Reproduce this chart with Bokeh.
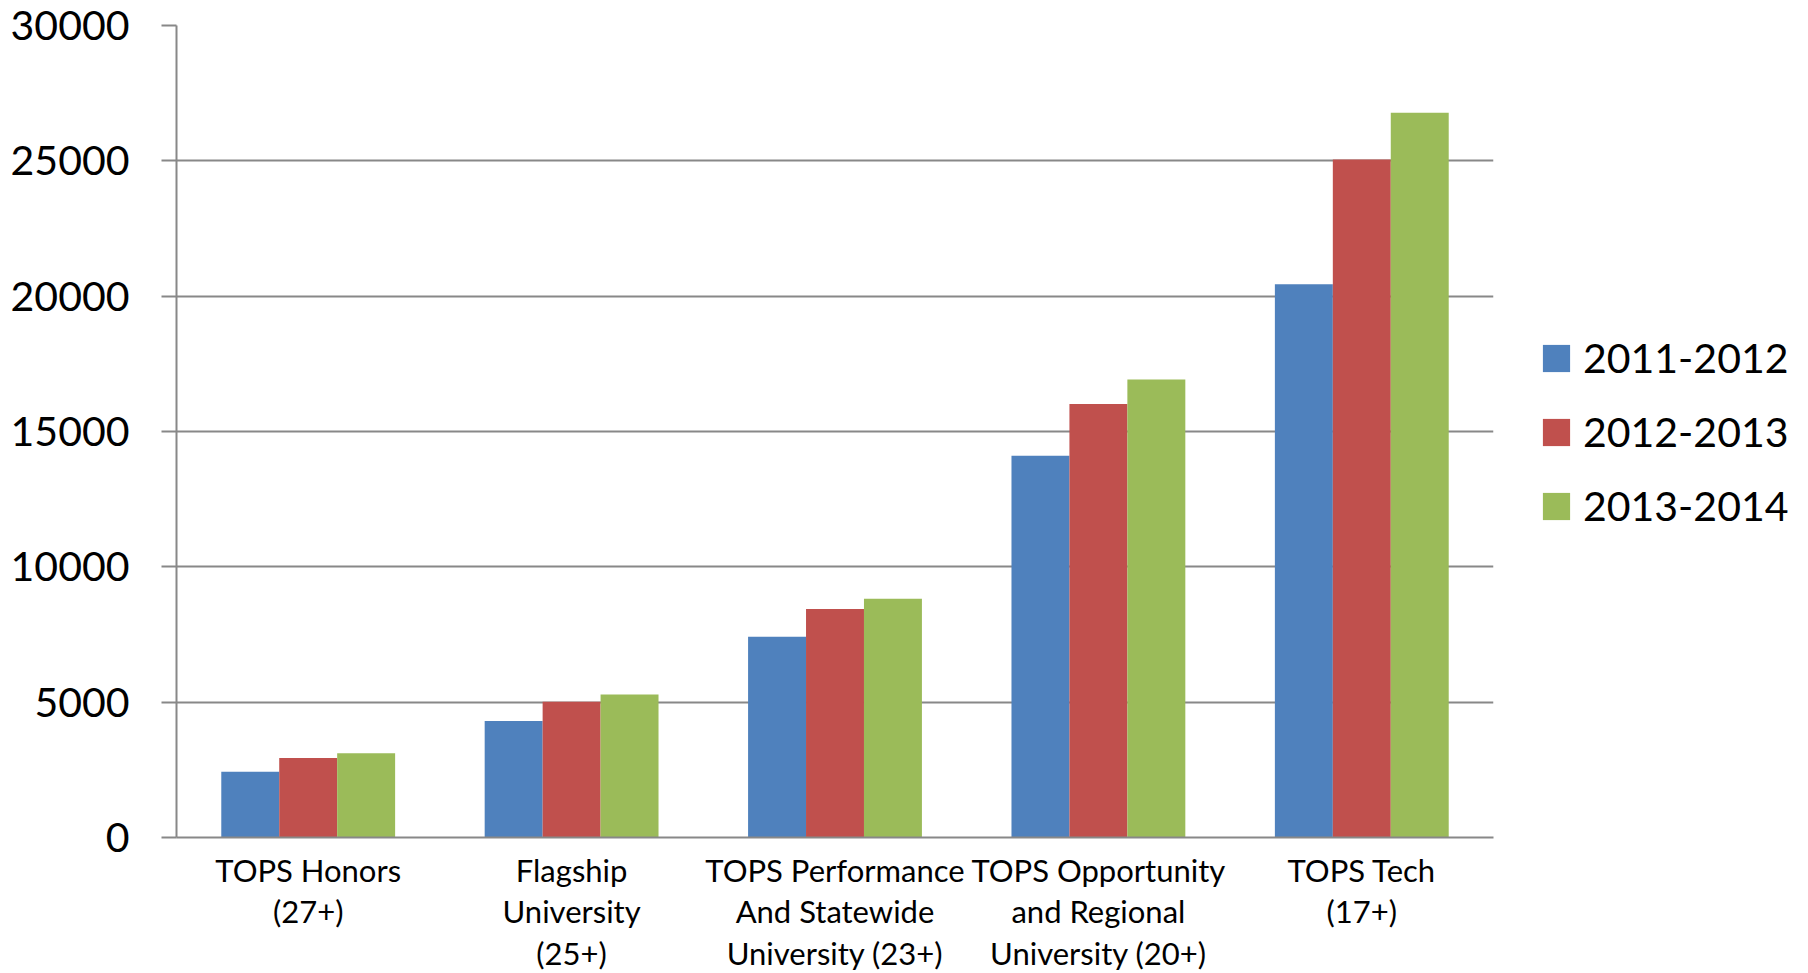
from bokeh.plotting import figure
from bokeh.models import FactorRange, Legend, LegendItem, ColumnDataSource, SingleIntervalTicker
from bokeh.transform import dodge
from bokeh.embed import file_html
from bokeh.resources import INLINE

categories = ["TOPS Honors\n(27+)", "Flagship\nUniversity\n(25+)",
              "TOPS Performance\nAnd Statewide\nUniversity (23+)",
              "TOPS Opportunity\nand Regional\nUniversity (20+)", "TOPS Tech\n(17+)"]
series_names = ["2011-2012", "2012-2013", "2013-2014"]
v_2011 = [2430, 4300, 7420, 14100, 20440]
v_2012 = [2940, 5020, 8440, 16020, 25050]
v_2013 = [3110, 5280, 8820, 16920, 26780]
colors = ["#4F81BD", "#C0504D", "#9BBB59"]

src = ColumnDataSource(dict(cat=categories, s0=v_2011, s1=v_2012, s2=v_2013))

FONT = "Lato"
p = figure(frame_width=1317, frame_height=812, x_range=FactorRange(*categories), y_range=(0, 30000),
           output_backend="svg", toolbar_location=None,
           min_border_left=176, min_border_top=25, min_border_right=0, min_border_bottom=130)
p.outline_line_color = None

renderers = []
for i, (col, name, c) in enumerate(zip(["s0", "s1", "s2"], series_names, colors)):
    r = p.vbar(x=dodge("cat", (i - 1) * 0.22, range=p.x_range), top=col, width=0.22,
               source=src, fill_color=c, line_color=None)
    renderers.append((name, r))

grid_c = "#888888"
p.xgrid.grid_line_color = None
p.ygrid.grid_line_color = grid_c
p.ygrid.grid_line_width = 2
p.yaxis.ticker = SingleIntervalTicker(interval=5000)
p.yaxis.minor_tick_line_color = None
p.yaxis.major_tick_out = 15
p.yaxis.major_tick_in = 0
p.yaxis.major_tick_line_color = grid_c
p.yaxis.major_tick_line_width = 2
p.yaxis.axis_line_color = grid_c
p.yaxis.axis_line_width = 2
p.yaxis.major_label_text_font = FONT
p.yaxis.major_label_text_font_size = "41px"
p.yaxis.major_label_text_color = "black"
p.yaxis.major_label_standoff = 32

p.xaxis.major_tick_line_color = None
p.xaxis.minor_tick_line_color = None
p.xaxis.axis_line_color = grid_c
p.xaxis.axis_line_width = 2
p.xaxis.major_label_text_font = FONT
p.xaxis.major_label_text_font_size = "31px"
p.xaxis.major_label_text_line_height = 1.1
p.xaxis.major_label_text_color = "black"
p.xaxis.major_label_standoff = 7
p.x_range.range_padding = 0

legend = Legend(items=[LegendItem(label=n, renderers=[r]) for n, r in renderers],
                location=(46, 307), orientation="vertical",
                label_text_font=FONT, label_text_font_size="41px", label_text_color="black",
                glyph_width=34, glyph_height=34, spacing=25, padding=0, margin=0,
                label_standoff=10, border_line_color=None, background_fill_alpha=0)
p.add_layout(legend, "right")

open("out.html", "w").write(file_html(p, INLINE))
